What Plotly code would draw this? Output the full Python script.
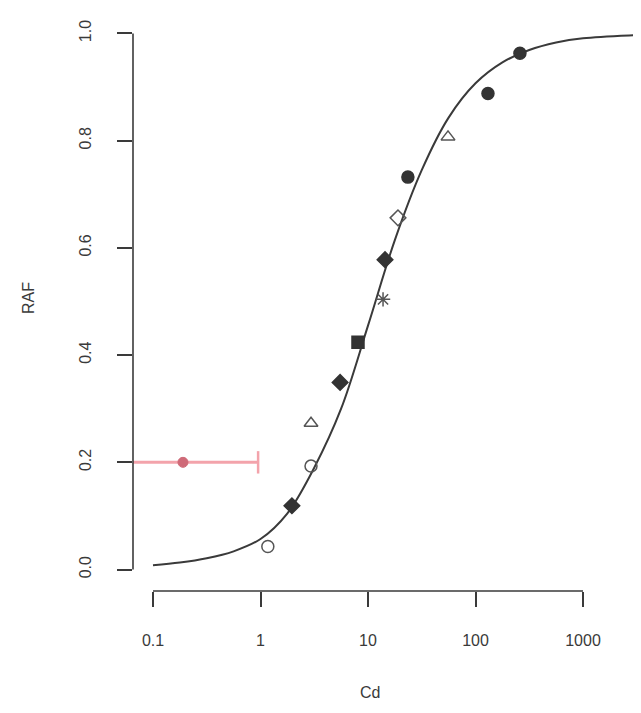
import plotly.graph_objects as go

# ---- data ----
cd_obs = [1.17, 1.96, 2.95, 2.95, 5.5, 8.07, 13.8, 14.4, 19.0, 23.5, 55.5, 130.6, 259]
raf_obs = [0.043, 0.119, 0.193, 0.273, 0.349, 0.424, 0.504, 0.578, 0.656, 0.732, 0.807, 0.888, 0.963]
sym_obs = ["circle-open", "diamond", "circle-open", "triangle-up-open", "diamond", "square",
           "asterisk-open", "diamond", "diamond-open", "circle", "triangle-up-open", "circle", "circle"]

# fitted curve, read at quarter-decade steps
curve_cd = [0.1, 0.178, 0.316, 0.562, 1.0, 1.78, 3.16, 5.62, 10.0, 17.8, 31.6, 56.2, 100, 178,
            316, 562, 1000, 3162, 6310]
curve_raf = [0.008, 0.013, 0.021, 0.034, 0.057, 0.105, 0.19, 0.30, 0.455, 0.615, 0.745, 0.843,
             0.907, 0.946, 0.969, 0.983, 0.991, 0.997, 0.999]

red_cd = [0.19]
red_raf = [0.2]
red_lo = [0.05]
red_hi = [0.95]

x_ticks = [0.1, 1, 10, 100, 1000]
x_ticktext = ["0.1", "1", "10", "100", "1000"]
y_ticks = [0.0, 0.2, 0.4, 0.6, 0.8, 1.0]
y_ticktext = ["0.0", "0.2", "0.4", "0.6", "0.8", "1.0"]

# ---- layout geometry (screen pixels of the reference; page body margin is 8px) ----
OFF = 8
WIN_W, WIN_H = 641, 713
W, H = WIN_W - 2 * OFF, WIN_H - 2 * OFF
AX_L, AX_T, AX_B = 133, 11.5, 591.5          # screen pixels of plot area edges
L, T = AX_L - OFF, AX_T - OFF
B = H - (AX_B - OFF)
R = 0
pw, ph = W - L - R, H - T - B

def px_x(p):  # screen px -> paper
    return (p - OFF - L) / pw

def px_y(p):
    return (H - B - (p - OFF)) / ph

DEC = 107.5   # pixels per decade
X01 = 153     # screen px of x = 0.1

ink = "#3a3a3a"
font = "Liberation Sans, Arial, Helvetica, sans-serif"

fig = go.Figure()

fig.add_trace(go.Scatter(x=curve_cd, y=curve_raf, mode="lines",
                         line=dict(color=ink, width=2, shape="spline", smoothing=1.0),
                         hoverinfo="skip", showlegend=False))

fig.add_trace(go.Scatter(x=[red_lo[0], red_hi[0]], y=[red_raf[0], red_raf[0]], mode="lines",
                         line=dict(color="#f3a3ab", width=3), showlegend=False))
fig.add_trace(go.Scatter(x=red_hi, y=red_raf, mode="markers",
                         marker=dict(symbol="line-ns", size=16, line=dict(color="#f3a3ab", width=2.5)),
                         showlegend=False))
fig.add_trace(go.Scatter(x=red_cd, y=red_raf, mode="markers",
                         marker=dict(symbol="circle", size=10, color="#cf6a78",
                                     line=dict(color="#cf6a78", width=1)),
                         showlegend=False))

for x, y, s in zip(cd_obs, raf_obs, sym_obs):
    openm = s.endswith("open")
    c = "#555555" if openm else "#333333"
    fig.add_trace(go.Scatter(x=[x], y=[y], mode="markers", showlegend=False,
                             marker=dict(symbol=s, size=12, color=c, line=dict(color=c, width=1.5))))

shapes = [
    dict(type="line", xref="x", yref="paper", x0=x_ticks[0], x1=x_ticks[-1], y0=0, y1=0,
         line=dict(color=ink, width=1.6)),
    dict(type="line", xref="paper", yref="y", x0=0, x1=0, y0=y_ticks[0], y1=y_ticks[-1],
         line=dict(color=ink, width=1.6)),
]

fig.update_layout(
    width=W, height=H,
    margin=dict(l=L, r=R, t=T, b=B, pad=0),
    paper_bgcolor="white", plot_bgcolor="white",
    shapes=shapes,
    font=dict(family=font, size=16, color=ink),
    xaxis=dict(type="log", range=[-1 - (X01 - AX_L) / DEC, -1 + (WIN_W - OFF - X01) / DEC],
               tickvals=x_ticks, ticktext=x_ticktext, ticks="outside", ticklen=15, tickwidth=1.6,
               tickcolor=ink, showline=False, showgrid=False, zeroline=False, ticklabelstandoff=20,
               tickfont=dict(size=16, color=ink)),
    yaxis=dict(range=[-0.04, 1.04], tickvals=y_ticks, ticktext=y_ticktext, ticks="outside", ticklen=15,
               tickwidth=1.6, tickcolor=ink, showline=False, showgrid=False, zeroline=False,
               tickangle=-90, ticklabelstandoff=20, tickfont=dict(size=16, color=ink)),
    annotations=[
        dict(text="RAF", xref="paper", yref="paper", x=px_x(28), y=px_y(298), showarrow=False,
             textangle=-90, font=dict(size=16, color=ink), xanchor="center", yanchor="middle"),
        dict(text="Cd", xref="paper", yref="paper", x=px_x(370), y=px_y(693), showarrow=False,
             font=dict(size=16, color=ink), xanchor="center", yanchor="middle"),
    ],
)

fig.write_html("out.html")
